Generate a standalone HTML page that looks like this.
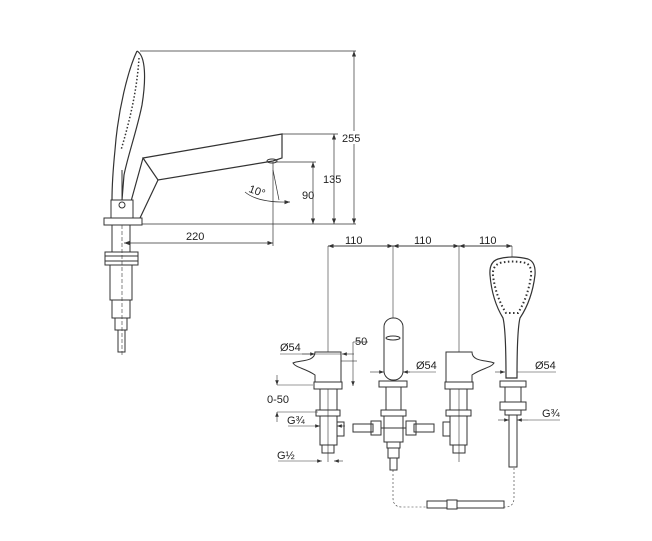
<!DOCTYPE html>
<html><head><meta charset="utf-8"><style>
html,body{margin:0;padding:0;background:#fff}
svg{display:block}
text{font-family:"Liberation Sans",sans-serif;font-size:11px;fill:#222}
</style></head><body>
<svg width="652" height="541" viewBox="0 0 652 541" xmlns="http://www.w3.org/2000/svg">
<defs><marker id="a" markerWidth="8" markerHeight="6" refX="8" refY="3" orient="auto-start-reverse"><path d="M0,0 L8,3 L0,6z" fill="#333"/></marker></defs>
<g stroke="#333" stroke-width="1" fill="none">
<!-- handshower side -->
<path d="M137,51 C128,70 118,110 115,150 C113,170 112,190 112,200" stroke-width="1.2"/>
<path d="M137,51 C146,56 146,80 142,105 C137,130 128,155 124,175 L122,200" stroke-width="1.2"/>
<path d="M139,58 C137,90 130,120 121,150" stroke-dasharray="1.5,2" stroke-width="1.5"/>
<line x1="122" y1="170" x2="122" y2="200"/>
<!-- spout -->
<path d="M143,158 L282,134 L282,158 L273,161 L158,180 Z" stroke-width="1.2"/>
<path d="M143,158 L130,205 M158,180 L140,218" stroke-width="1.2"/>
<ellipse cx="272" cy="161" rx="5" ry="2"/>
<!-- base -->
<rect x="111" y="200" width="22" height="18" fill="#fff"/>
<circle cx="122" cy="205" r="3"/>
<rect x="104" y="218" width="38" height="7" fill="#fff"/>
<!-- shank -->
<rect x="112" y="225" width="18" height="27"/>
<rect x="105" y="252" width="33" height="13"/>
<line x1="105" y1="256" x2="138" y2="256"/><line x1="105" y1="261" x2="138" y2="261"/>
<rect x="110" y="265" width="22" height="35"/>
<rect x="112" y="300" width="18" height="18"/>
<rect x="115" y="318" width="12" height="12"/>
<rect x="118" y="330" width="7" height="22"/>
<line x1="122" y1="225" x2="122" y2="355" stroke-dasharray="4,2" stroke-width=".6"/>
<!-- dims top -->
<line x1="140" y1="51" x2="356" y2="51" stroke-width=".7"/>
<line x1="354" y1="51" x2="354" y2="224" stroke-width=".7" marker-start="url(#a)" marker-end="url(#a)"/>
<line x1="282" y1="134" x2="338" y2="134" stroke-width=".7"/>
<line x1="334" y1="134" x2="334" y2="224" stroke-width=".7" marker-start="url(#a)" marker-end="url(#a)"/>
<line x1="275" y1="162" x2="316" y2="162" stroke-width=".7"/>
<line x1="313" y1="162" x2="313" y2="224" stroke-width=".7" marker-start="url(#a)" marker-end="url(#a)"/>
<line x1="142" y1="224" x2="356" y2="224" stroke-width=".7"/>
<line x1="273" y1="162" x2="273" y2="246" stroke-width=".7"/>
<line x1="124" y1="243" x2="273" y2="243" stroke-width=".7" marker-start="url(#a)" marker-end="url(#a)"/>
<line x1="273" y1="170" x2="279" y2="200" stroke-width=".7"/>
<path d="M245,192 Q258,203 290,202" stroke-width=".7" marker-end="url(#a)"/>
<!-- 110 dims -->
<line x1="328" y1="246" x2="512" y2="246" stroke-width=".7"/>
<line x1="328" y1="246" x2="393" y2="246" stroke-width=".7" marker-start="url(#a)" marker-end="url(#a)"/>
<line x1="393" y1="246" x2="459" y2="246" stroke-width=".7" marker-start="url(#a)" marker-end="url(#a)"/>
<line x1="459" y1="246" x2="512" y2="246" stroke-width=".7" marker-start="url(#a)" marker-end="url(#a)"/>
<line x1="328" y1="246" x2="328" y2="462" stroke-width=".6"/>
<line x1="393" y1="246" x2="393" y2="320" stroke-width=".6"/>
<line x1="459" y1="246" x2="459" y2="462" stroke-width=".6"/>
<line x1="512" y1="246" x2="512" y2="258" stroke-width=".6"/>
<!-- left valve -->
<path d="M315,352 L341,352 L341,382 L315,382 L315,375 C305,368 296,368 293,363 C300,360 315,362 315,352Z" fill="#fff"/>
<rect x="314" y="382" width="28" height="7" fill="#fff"/>
<rect x="320" y="389" width="17" height="21"/>
<rect x="316" y="410" width="24" height="6"/>
<rect x="320" y="416" width="17" height="29"/>
<rect x="337" y="422" width="7" height="14"/>
<rect x="322" y="445" width="12" height="8"/>
<!-- center spout -->
<rect x="384" y="318" width="19" height="62" rx="9" fill="#fff"/>
<ellipse cx="393" cy="338" rx="7" ry="2"/>
<rect x="379" y="381" width="28" height="6" fill="#fff"/>
<rect x="386" y="387" width="15" height="23"/>
<rect x="381" y="410" width="25" height="6"/>
<rect x="384" y="416" width="19" height="26"/>
<rect x="353" y="424" width="20" height="8"/><rect x="371" y="421" width="10" height="14"/>
<rect x="414" y="424" width="20" height="8"/><rect x="406" y="421" width="10" height="14"/>
<line x1="381" y1="428" x2="406" y2="428"/>
<rect x="387" y="442" width="13" height="6"/>
<rect x="388" y="448" width="11" height="10"/>
<rect x="390" y="458" width="7" height="12"/>
<!-- right valve -->
<path d="M446,352 L472,352 C472,362 487,360 494,363 C491,368 482,368 472,375 L472,382 L446,382Z" fill="#fff"/>
<rect x="445" y="382" width="28" height="7" fill="#fff"/>
<rect x="450" y="389" width="17" height="21"/>
<rect x="446" y="410" width="25" height="6"/>
<rect x="450" y="416" width="17" height="29"/>
<rect x="443" y="422" width="7" height="14"/>
<rect x="453" y="445" width="12" height="8"/>
<!-- handshower front -->
<path d="M498,259 Q512,255 528,259 Q536,262 535,275 Q532,300 520,318 Q517,330 517,378 L506,378 Q506,330 503,318 Q492,300 490,275 Q489,262 498,259Z" fill="#fff" stroke-width="1.2"/>
<path d="M500,263 Q512,260 526,263 Q532,266 531,276 Q528,297 518,313 L506,313 Q496,297 493,276 Q492,266 500,263Z" fill="none" stroke-dasharray="1.5,2.5" stroke-width="2"/>
<rect x="500" y="381" width="26" height="6" fill="#fff"/>
<rect x="505" y="387" width="16" height="15"/>
<rect x="500" y="402" width="26" height="8"/>
<rect x="505" y="410" width="16" height="5"/>
<rect x="509" y="415" width="8" height="52"/>
<!-- hose -->
<path d="M393,470 L393,498 Q393,507 402,507 L505,507 Q514,507 514,498 L514,468" stroke-dasharray="2,2" stroke-width=".6"/>
<rect x="427" y="501" width="20" height="7" fill="#fff"/><rect x="447" y="500" width="10" height="9" fill="#fff"/><rect x="457" y="501" width="47" height="7" fill="#fff"/>
<!-- bottom-left dims -->
<line x1="280" y1="354" x2="341" y2="354" stroke-width=".6"/>
<line x1="302" y1="354" x2="315" y2="354" stroke-width=".6" marker-end="url(#a)"/>
<line x1="354" y1="354" x2="342" y2="354" stroke-width=".6" marker-end="url(#a)"/>
<line x1="341" y1="361" x2="357" y2="361" stroke-width=".6"/>
<line x1="353" y1="342" x2="353" y2="386" stroke-width=".6" marker-end="url(#a)"/>
<line x1="353" y1="342" x2="368" y2="342" stroke-width=".6"/>
<line x1="277" y1="385" x2="313" y2="385" stroke-width=".6"/>
<line x1="277" y1="412" x2="318" y2="412" stroke-width=".6"/>
<line x1="277" y1="375" x2="277" y2="385" stroke-width=".6" marker-end="url(#a)"/>
<line x1="277" y1="422" x2="277" y2="412" stroke-width=".6" marker-end="url(#a)"/>
<line x1="288" y1="426" x2="320" y2="426" stroke-width=".6" marker-end="url(#a)"/>
<line x1="345" y1="426" x2="337" y2="426" stroke-width=".6" marker-end="url(#a)"/>
<line x1="278" y1="461" x2="322" y2="461" stroke-width=".6" marker-end="url(#a)"/>
<line x1="343" y1="461" x2="334" y2="461" stroke-width=".6" marker-end="url(#a)"/>
<line x1="370" y1="372" x2="384" y2="372" stroke-width=".6" marker-end="url(#a)"/>
<line x1="410" y1="372" x2="403" y2="372" stroke-width=".6" marker-end="url(#a)"/>
<line x1="403" y1="372" x2="436" y2="372" stroke-width=".6"/>
<line x1="495" y1="372" x2="505" y2="372" stroke-width=".6" marker-end="url(#a)"/>
<line x1="517" y1="372" x2="556" y2="372" stroke-width=".6"/>
<line x1="498" y1="420" x2="509" y2="420" stroke-width=".6" marker-end="url(#a)"/>
<line x1="528" y1="420" x2="517" y2="420" stroke-width=".6" marker-end="url(#a)"/>
<line x1="528" y1="420" x2="560" y2="420" stroke-width=".6"/>
</g>
<rect x="342" y="131" width="22" height="13" fill="#fff"/>
<text x="342" y="142">255</text>
<text x="323" y="183">135</text>
<text x="302" y="199">90</text>
<text x="186" y="240">220</text>
<text x="249" y="194" font-size="10" transform="rotate(20 255 190)">10°</text>
<text x="345" y="244">110</text>
<text x="414" y="244">110</text>
<text x="479" y="244">110</text>
<text x="280" y="351">Ø54</text>
<text x="355" y="345">50</text>
<text x="416" y="369">Ø54</text>
<text x="535" y="369">Ø54</text>
<text x="267" y="403">0-50</text>
<text x="287" y="424">G¾</text>
<text x="542" y="417">G¾</text>
<text x="277" y="459">G½</text>
</svg>
</body></html>
